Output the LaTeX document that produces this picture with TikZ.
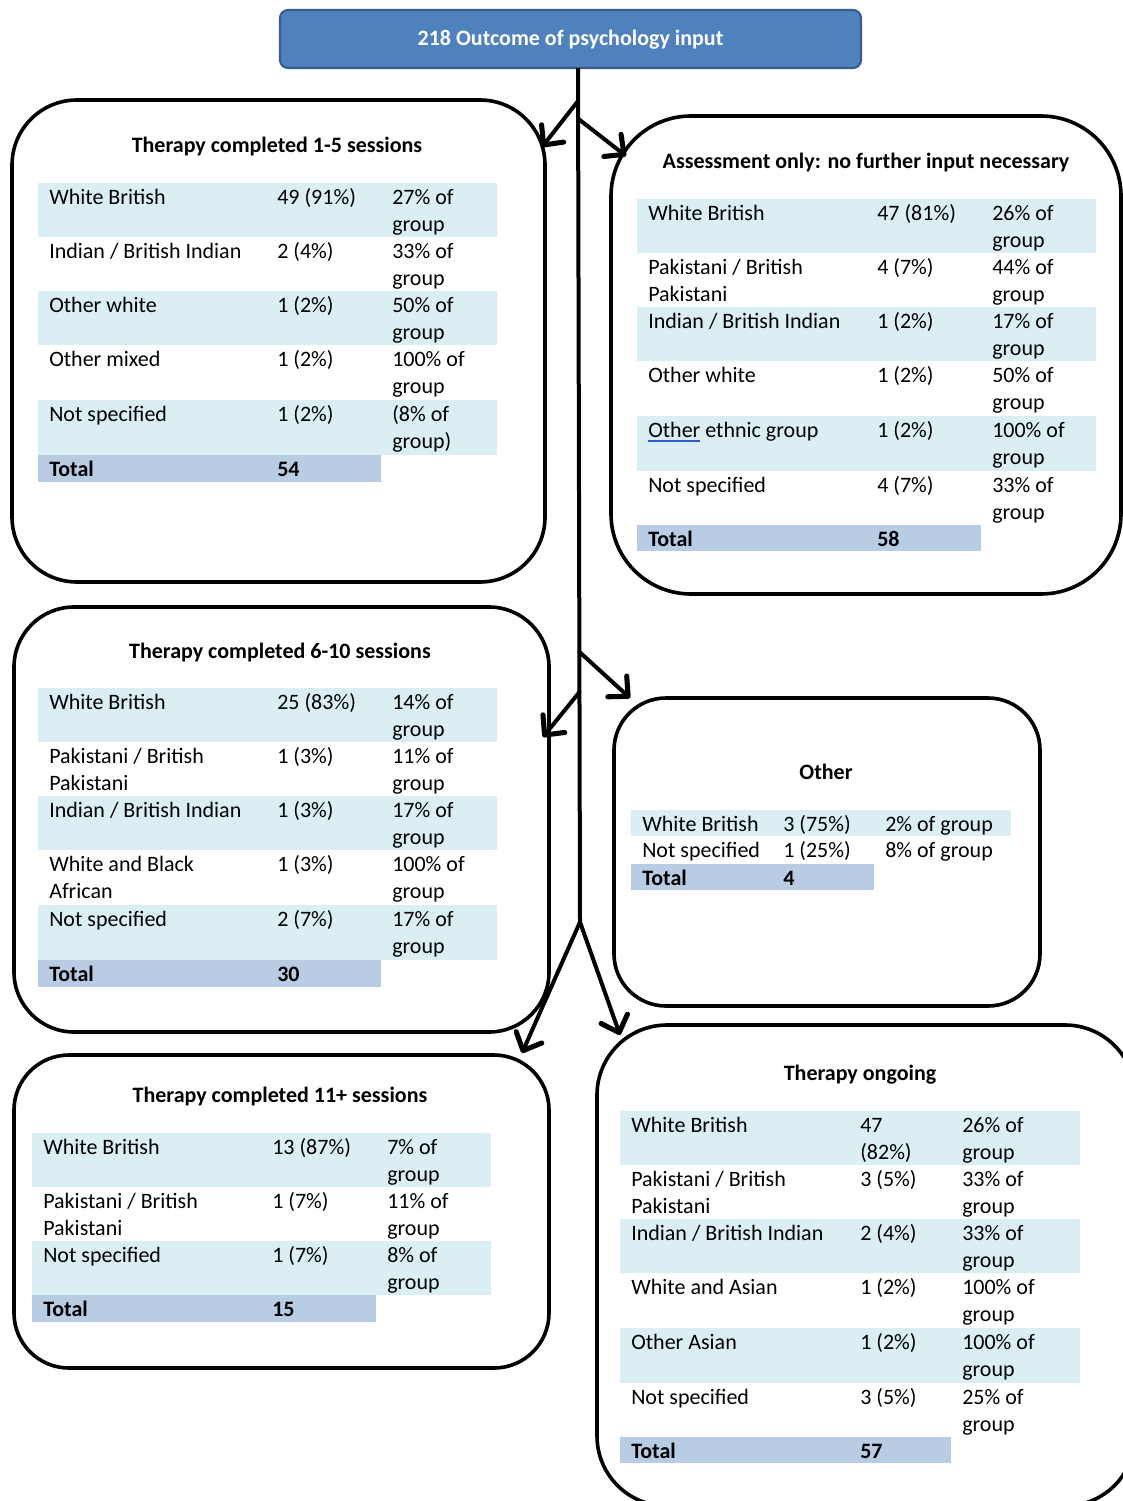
\documentclass[tikz,border=0pt]{standalone}
\usepackage{fontspec}
\setmainfont{Carlito}
\usetikzlibrary{arrows.meta}
\definecolor{rowfill}{HTML}{DBEEF3}
\definecolor{totfill}{HTML}{B8CCE4}
\definecolor{topfill}{HTML}{4F81BD}
\definecolor{topdraw}{HTML}{385D8A}
\definecolor{ulblue}{HTML}{2B5BD7}
\tikzset{
  cell/.style={anchor=north west, inner sep=0pt, align=left, font={\fontsize{16.5}{20}\selectfont}},
  celltot/.style={cell, font={\fontsize{16.5}{20}\selectfont\bfseries}},
  ttl/.style={anchor=base, inner sep=0pt, font={\fontsize{16.5}{20}\selectfont\bfseries}},
  panel/.style={draw=black, line width=2.7pt, anchor=north west, inner sep=0pt, outer sep=0pt},
  topbox/.style={fill=topfill, draw=topdraw, line width=1.6pt, rounded corners=6pt, text=white,
     font={\fontsize{16.5}{20}\selectfont\bfseries}, inner sep=0pt, text height=12.5pt, text depth=2pt},
  trunkline/.style={line width=3pt},
  conn/.style={line width=3pt, line cap=round, -{Straight Barb[length=11pt,width=21pt,line width=3.8pt,round]}},
}
% table column setup: left, col2 start, col3 start, right
\newcommand\tbl[4]{\def\tx{#1}\def\tb{#2}\def\tc{#3}\def\te{#4}}
% row: name, top, bottom, shaded (1/0), texts
\newcommand\trow[7]{%
  \ifnum#4=1 \fill[rowfill] (\tx,#2) rectangle (\te,#3);\fi
  \node[cell] (#1a) at (\tx+11,#2+3) {\strut #5};
  \node[cell] (#1b) at (\tb+11,#2+3) {\strut #6};
  \node[cell] (#1c) at (\tc+11,#2+3) {\strut #7};
}
\newcommand\ttot[4]{%
  \fill[totfill] (\tx,#2) rectangle (\tc,#3);
  \node[celltot] (#1a) at (\tx+11,#2+3) {\strut Total};
  \node[celltot] (#1b) at (\tb+11,#2+3) {\strut #4};
}
% panel: name, x1, y1, x2, y2, radius (px)
\newcommand\panel[6]{%
  \node[panel, rounded corners={#6*0.75pt}, minimum width={(#4-#2)*0.75pt},
        minimum height={(#5-#3)*0.75pt}] (#1) at (#2,#3) {};
}
\newcommand\uother{\leavevmode\setbox0\hbox{Other}\rlap{\textcolor{ulblue}{\rule[-2.8pt]{\wd0}{1.6pt}}}\box0}
\begin{document}
\begin{tikzpicture}[x=0.75pt, y=-0.75pt]
\useasboundingbox (0,0) rectangle (1123,1501);
\clip (0,0) rectangle (1123,1501);

% top box
\node[topbox, minimum width=435.75pt, minimum height=43.5pt] (top) at (570.5,39) {218 Outcome of psychology input};

% panels
\panel{A}{12}{100}{545}{582}{65}
\panel{B}{611}{116}{1121}{594}{80}
\panel{C}{14}{607}{549}{1032}{60}
\panel{D}{614}{698}{1040}{1006}{52}
\panel{E}{14}{1055}{549}{1368}{55}
\panel{F}{597}{1025}{1135}{1506}{70}

% titles
\node[ttl] (At) at (277,153) {Therapy completed 1-5 sessions};
\node[ttl] (Bt) at (866,169) {Assessment only: no further input necessary};
\node[ttl] (Ct) at (280,658) {Therapy completed 6-10 sessions};
\node[ttl] (Dt) at (826,779) {Other};
\node[ttl] (Et) at (280,1102) {Therapy completed 11+ sessions};
\node[ttl] (Ft) at (860,1080) {Therapy ongoing};

% table A
\tbl{38}{266}{381}{497}
\trow{A1}{183}{237}{1}{White British}{49 (91\%)}{27\% of\\group}
\trow{A2}{237}{291}{0}{Indian / British Indian}{2 (4\%)}{33\% of\\group}
\trow{A3}{291}{345}{1}{Other white}{1 (2\%)}{50\% of\\group}
\trow{A4}{345}{400}{0}{Other mixed}{1 (2\%)}{100\% of\\group}
\trow{A5}{400}{455}{1}{Not specified}{1 (2\%)}{(8\% of\\group)}
\ttot{A6}{455}{482}{54}

% table B
\tbl{637}{866}{981}{1096}
\trow{B1}{199}{253}{1}{White British}{47 (81\%)}{26\% of\\group}
\trow{B2}{253}{307}{0}{Pakistani / British\\Pakistani}{4 (7\%)}{44\% of\\group}
\trow{B3}{307}{361}{1}{Indian / British Indian}{1 (2\%)}{17\% of\\group}
\trow{B4}{361}{416}{0}{Other white}{1 (2\%)}{50\% of\\group}
\trow{B5}{416}{471}{1}{\uother{} ethnic group}{1 (2\%)}{100\% of\\group}
\trow{B6}{471}{525}{0}{Not specified}{4 (7\%)}{33\% of\\group}
\ttot{B7}{525}{551}{58}

% table C
\tbl{38}{266}{381}{497}
\trow{C1}{688}{742}{1}{White British}{25 (83\%)}{14\% of\\group}
\trow{C2}{742}{796}{0}{Pakistani / British\\Pakistani}{1 (3\%)}{11\% of\\group}
\trow{C3}{796}{850}{1}{Indian / British Indian}{1 (3\%)}{17\% of\\group}
\trow{C4}{850}{905}{0}{White and Black\\African}{1 (3\%)}{100\% of\\group}
\trow{C5}{905}{960}{1}{Not specified}{2 (7\%)}{17\% of\\group}
\ttot{C6}{960}{987}{30}

% table D
\tbl{631}{772}{874}{1011}
\trow{D1}{810}{836}{1}{White British}{3 (75\%)}{2\% of group}
\trow{D2}{836}{864}{0}{Not specified}{1 (25\%)}{8\% of group}
\ttot{D3}{864}{890}{4}

% table E
\tbl{32}{261}{376}{491}
\trow{E1}{1133}{1187}{1}{White British}{13 (87\%)}{7\% of\\group}
\trow{E2}{1187}{1241}{0}{Pakistani / British\\Pakistani}{1 (7\%)}{11\% of\\group}
\trow{E3}{1241}{1295}{1}{Not specified}{1 (7\%)}{8\% of\\group}
\ttot{E4}{1295}{1322}{15}

% table F
\tbl{620}{849}{951}{1080}
\trow{F1}{1111}{1165}{1}{White British}{47\\(82\%)}{26\% of\\group}
\trow{F2}{1165}{1219}{0}{Pakistani / British\\Pakistani}{3 (5\%)}{33\% of\\group}
\trow{F3}{1219}{1273}{1}{Indian / British Indian}{2 (4\%)}{33\% of\\group}
\trow{F4}{1273}{1328}{0}{White and Asian}{1 (2\%)}{100\% of\\group}
\trow{F5}{1328}{1383}{1}{Other Asian}{1 (2\%)}{100\% of\\group}
\trow{F6}{1383}{1437}{0}{Not specified}{3 (5\%)}{25\% of\\group}
\ttot{F7}{1437}{1463}{57}

% trunk and branch points
\coordinate (t0) at (578,68);
\coordinate (j1) at (578,101);
\coordinate (j2) at (578.5,119);
\coordinate (j3) at (579.5,652);
\coordinate (j4) at (579.5,692);
\coordinate (j5) at (580,922);
\draw[trunkline] (t0) -- (j5);

% arrow tips
\coordinate (k1) at (542,147);
\coordinate (k2) at (626,156);
\coordinate (k3) at (630,698);
\coordinate (k4) at (543,737);
\coordinate (k5) at (522,1053);
\coordinate (k6) at (620,1035);
\draw[conn] (j1) -- (k1);
\draw[conn] (j2) -- (k2);
\draw[conn] (j3) -- (k3);
\draw[conn] (j4) -- (k4);
\draw[conn] (j5) -- (k5);
\draw[conn] (j5) -- (k6);
\end{tikzpicture}
\end{document}
